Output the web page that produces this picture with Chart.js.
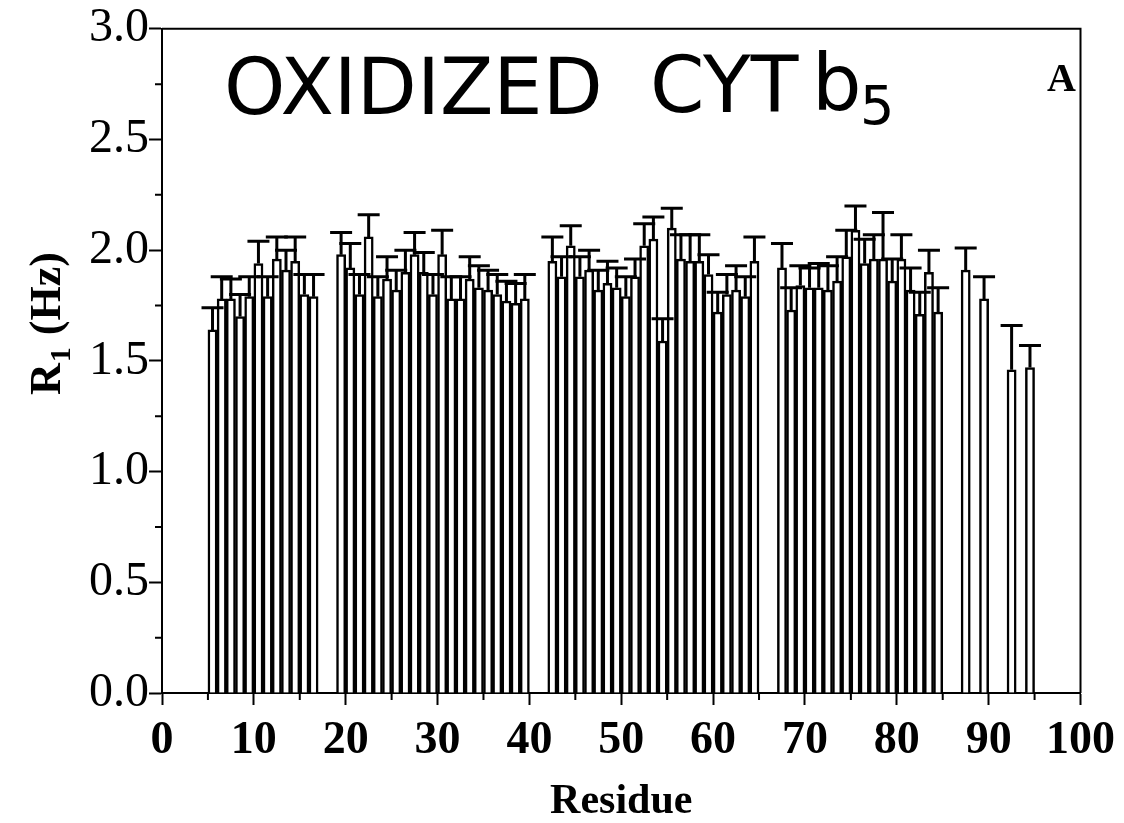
<!DOCTYPE html>
<html>
<head>
<meta charset="utf-8">
<title>R1 - oxidized cyt b5</title>
<script src="https://cdn.jsdelivr.net/npm/chart.js@4.4.1/dist/chart.umd.min.js"></script>
<style>
  html, body { margin: 0; padding: 0; background: #fff; }
  canvas { display: block; }
</style>
</head>
<body>
<canvas id="r1Chart" width="1124" height="823"></canvas>
<script>
// ===== R1 per residue, oxidized cyt b5 =====
const residues = [
    5, 6, 7, 8, 9, 10, 11, 12, 13, 14, 15, 16,
    19, 20, 21, 22, 23, 24, 25, 26, 27, 28, 29, 30, 31, 32, 33, 34, 35, 36, 37, 38, 39,
    42, 43, 44, 45, 46, 47, 48, 49, 50, 51, 52, 53, 54, 55, 56, 57, 58, 59, 60, 61, 62, 63, 64,
    67, 68, 69, 70, 71, 72, 73, 74, 75, 76, 77, 78, 79, 80, 81, 82, 83, 84,
    87, 89, 92, 94
];
const r1Values = [
    1.64, 1.78, 1.78, 1.70, 1.79, 1.94, 1.79, 1.96, 1.91, 1.95, 1.80, 1.79,
    1.98, 1.92, 1.80, 2.06, 1.79, 1.87, 1.82, 1.90, 1.98, 1.90, 1.80, 1.98, 1.78, 1.78, 1.87, 1.83, 1.82, 1.80, 1.77, 1.76, 1.78,
    1.95, 1.88, 2.02, 1.88, 1.91, 1.82, 1.85, 1.83, 1.79, 1.88, 2.02, 2.05, 1.59, 2.10, 1.96, 1.95, 1.95, 1.89, 1.72, 1.80, 1.82, 1.79, 1.95,
    1.92, 1.73, 1.84, 1.83, 1.83, 1.82, 1.86, 1.97, 2.09, 1.94, 1.96, 1.96, 1.86, 1.96, 1.82, 1.71, 1.90, 1.72,
    1.91, 1.78, 1.46, 1.47
];
const r1Errors = [
    0.10, 0.10, 0.09, 0.10, 0.09, 0.10, 0.09, 0.10, 0.09, 0.11, 0.09, 0.10,
    0.10, 0.11, 0.09, 0.10, 0.09, 0.10, 0.09, 0.10, 0.10, 0.09, 0.09, 0.11, 0.10, 0.10, 0.10, 0.10, 0.09, 0.09, 0.09, 0.09, 0.11,
    0.11, 0.09, 0.09, 0.09, 0.09, 0.09, 0.10, 0.09, 0.09, 0.08, 0.10, 0.10, 0.10, 0.09, 0.11, 0.12, 0.12, 0.09, 0.09, 0.09, 0.11, 0.09, 0.11,
    0.11, 0.10, 0.09, 0.09, 0.11, 0.11, 0.11, 0.12, 0.11, 0.11, 0.11, 0.21, 0.10, 0.11, 0.10, 0.10, 0.10, 0.11,
    0.10, 0.10, 0.20, 0.10
];

// tick values
const xTicks = [0, 10, 20, 30, 40, 50, 60, 70, 80, 90, 100];
const xMinorTicks = [5, 15, 25, 35, 45, 55, 65, 75, 85, 95];
const yTicks = [0, 0.5, 1.0, 1.5, 2.0, 2.5, 3.0];
const yMinorTicks = [0.25, 0.75, 1.25, 1.75, 2.25, 2.75];

const SERIF = "'Liberation Serif', 'Times New Roman', serif";

// Error bars (upper half only, like the original)
const errorBars = {
    id: "errorBars",
    afterDatasetsDraw(chart) {
        const { ctx, scales: { x, y } } = chart;
        const capHalf = 11;
        ctx.save();
        ctx.strokeStyle = "#000";
        ctx.lineWidth = 3;
        chart.data.datasets[0].data.forEach((pt, i) => {
            const px = x.getPixelForValue(pt.x);
            const yTop = y.getPixelForValue(pt.y);
            const yErr = y.getPixelForValue(pt.y + r1Errors[i]);
            ctx.beginPath();
            ctx.moveTo(px, yTop);
            ctx.lineTo(px, yErr);
            ctx.moveTo(px - capHalf, yErr);
            ctx.lineTo(px + capHalf, yErr);
            ctx.stroke();
        });
        ctx.restore();
    }
};

// Box frame, minor ticks and free text
const frameAndText = {
    id: "frameAndText",
    afterDraw(chart) {
        const { ctx, chartArea: a, scales: { x, y } } = chart;
        ctx.save();
        ctx.strokeStyle = "#000";
        ctx.fillStyle = "#000";
        ctx.lineWidth = 2;

        // top and right edges
        ctx.beginPath();
        ctx.moveTo(a.left, a.top);
        ctx.lineTo(a.right, a.top);
        ctx.lineTo(a.right, a.bottom);
        ctx.stroke();

        // minor ticks
        ctx.beginPath();
        xMinorTicks.forEach(v => {
            const px = x.getPixelForValue(v);
            ctx.moveTo(px, a.bottom);
            ctx.lineTo(px, a.bottom + 7);
        });
        yMinorTicks.forEach(v => {
            const py = y.getPixelForValue(v);
            ctx.moveTo(a.left, py);
            ctx.lineTo(a.left - 7, py);
        });
        ctx.stroke();

        // panel letter
        ctx.font = "bold 40px " + SERIF;
        ctx.textAlign = "center";
        ctx.textBaseline = "alphabetic";
        ctx.fillText("A", a.right - 19, a.top + 62);

        // handwritten-style label
        ctx.font = "78px 'DejaVu Sans', sans-serif";
        ctx.textAlign = "left";
        ctx.fillText("OXIDIZED", 224, 114);
        ctx.fillText("CYT", 650, 112);
        ctx.fillText("b", 812, 110);
        ctx.font = "54px 'DejaVu Sans', sans-serif";
        ctx.fillText("5", 860, 124);

        // y axis title: R1 (Hz) with subscript
        ctx.translate(60, 395);
        ctx.rotate(-Math.PI / 2);
        ctx.font = "bold 44px " + SERIF;
        ctx.textAlign = "left";
        ctx.fillText("R", 0, 0);
        let w = ctx.measureText("R").width;
        ctx.font = "bold 30px " + SERIF;
        ctx.fillText("1", w + 1, 10);
        w += ctx.measureText("1").width + 2;
        ctx.font = "bold 44px " + SERIF;
        ctx.fillText(" (Hz)", w, 0);
        ctx.restore();
    }
};

const ctx = document.getElementById("r1Chart").getContext("2d");

const r1Chart = new Chart(ctx, {
    type: "bar",
    data: {
        datasets: [
            {
                label: "R1",
                // each bar spans residue r to r+1
                data: residues.map((r, i) => ({ x: r + 0.5, y: r1Values[i] })),
                backgroundColor: "#fff",
                borderColor: "#000",
                borderWidth: 2.5,
                barPercentage: 1,
                categoryPercentage: 1
            }
        ]
    },
    options: {
        responsive: false,
        animation: false,
        layout: { padding: { left: 0, right: 43, top: 20, bottom: 0 } },
        plugins: {
            legend: { display: false },
            tooltip: { enabled: false }
        },
        scales: {
            x: {
                type: "linear",
                min: 0,
                max: 100,
                offset: false,
                afterBuildTicks: scale => { scale.ticks = xTicks.map(v => ({ value: v })); },
                afterFit: scale => { scale.height = 130; },
                border: { color: "#000", width: 2 },
                grid: {
                    drawOnChartArea: false,
                    offset: false,
                    tickLength: 12,
                    tickWidth: 2,
                    tickColor: "#000"
                },
                ticks: {
                    color: "#000",
                    padding: 9,
                    maxRotation: 0,
                    font: { family: SERIF, size: 46, weight: "bold" },
                    callback: v => String(v)
                },
                title: {
                    display: true,
                    text: "Residue",
                    color: "#000",
                    padding: { top: 0, bottom: -4 },
                    font: { family: SERIF, size: 42, weight: "bold" }
                }
            },
            y: {
                min: 0,
                max: 3,
                afterBuildTicks: scale => { scale.ticks = yTicks.map(v => ({ value: v })); },
                afterFit: scale => { scale.width = 162; },
                border: { color: "#000", width: 2 },
                grid: {
                    drawOnChartArea: false,
                    tickLength: 13,
                    tickWidth: 2,
                    tickColor: "#000"
                },
                ticks: {
                    color: "#000",
                    padding: 0,
                    font: { family: SERIF, size: 48 },
                    callback: v => v.toFixed(1)
                }
            }
        }
    },
    plugins: [errorBars, frameAndText]
});
</script>
</body>
</html>
